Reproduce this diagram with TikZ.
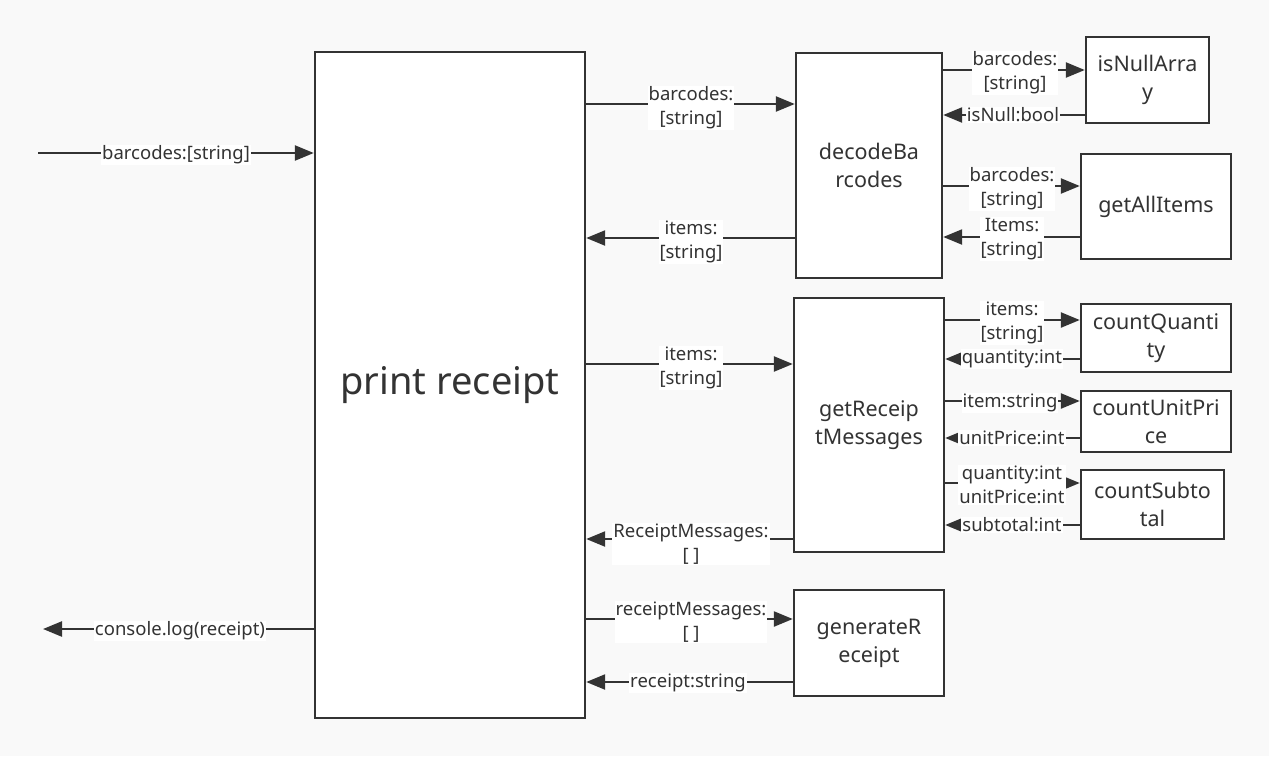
\documentclass[tikz,border=0pt]{standalone}
\usepackage{fontspec}
\setmainfont{Noto Sans}
\usetikzlibrary{arrows.meta}
\definecolor{bgc}{HTML}{F9F9F9}
\definecolor{ln}{HTML}{333333}
\tikzset{
  box/.style={draw=ln, line width=2.4pt, fill=white, inner sep=0pt, align=center, font=\fontsize{21.5}{28}\selectfont, text=ln},
  lbl/.style={fill=white, inner sep=1pt, align=center, font=\fontsize{18.5}{24}\selectfont, text=ln},
  arr/.style={draw=ln, line width=2.4pt, -{Triangle[length=19pt,width=15pt]}},
}
\begin{document}
\begin{tikzpicture}[x=1pt,y=-1pt]
\fill[bgc] (0,0) rectangle (1269,756);
\useasboundingbox (0,0) rectangle (1269,756);
% boxes
\node[box, minimum width=270pt, minimum height=666pt, font=\fontsize{38}{44}\selectfont] (pr) at (450,385) {print receipt};
\node[box, minimum width=146pt, minimum height=225pt] (db) at (869,165.5) {decodeBa\\rcodes};
\node[box, minimum width=123pt, minimum height=86pt] (inu) at (1147.5,80) {isNullArra\\y};
\node[box, minimum width=150pt, minimum height=105pt] (gai) at (1156,206.5) {getAllItems};
\node[box, minimum width=150pt, minimum height=254pt] (grm) at (869,425) {getReceip\\tMessages};
\node[box, minimum width=150pt, minimum height=68pt] (cq) at (1156,338) {countQuanti\\ty};
\node[box, minimum width=150pt, minimum height=61pt] (cup) at (1156,421.5) {countUnitPri\\ce};
\node[box, minimum width=143pt, minimum height=69pt] (cs) at (1152.5,504.5) {countSubto\\tal};
\node[box, minimum width=150pt, minimum height=106pt] (gr) at (869,643) {generateR\\eceipt};
% external ends
\coordinate (in) at (38,153);
\coordinate (out) at (43,629);
% connectors
\draw[arr] (in) -- (pr.west |- in);
\node[lbl] (l0) at (176,155) {barcodes:[string]};
\draw[arr] (pr.west |- out) -- (out);
\node[lbl] (l1) at (180,631) {console.log(receipt)};

\draw[arr] (pr.east |- 0,104) -- (db.west |- 0,104);
\node[lbl] (l2) at (691,108) {barcodes:\\{[string]}};
\draw[arr] (db.west |- 0,238) -- (pr.east |- 0,238);
\node[lbl] (l3) at (691,242) {items:\\{[string]}};
\draw[arr] (pr.east |- 0,364) -- (grm.west |- 0,364);
\node[lbl] (l4) at (691,368) {items:\\{[string]}};
\draw[arr] (grm.west |- 0,539) -- (pr.east |- 0,539);
\node[lbl] (l5) at (691,544) {ReceiptMessages:\\{[ ]}};
\draw[arr] (pr.east |- 0,619) -- (gr.west |- 0,619);
\node[lbl] (l6) at (691,622) {receiptMessages:\\{[ ]}};
\draw[arr] (gr.west |- 0,682) -- (pr.east |- 0,682);
\node[lbl] (l7) at (688,683) {receipt:string};

\draw[arr] (db.east |- 0,70) -- (inu.west |- 0,70);
\node[lbl] (l8) at (1015,73) {barcodes:\\{[string]}};
\draw[arr] (inu.west |- 0,115) -- (db.east |- 0,115);
\node[lbl] (l9) at (1013,115) {isNull:bool};
\draw[arr] (db.east |- 0,186) -- (gai.west |- 0,186);
\node[lbl] (l10) at (1012,189) {barcodes:\\{[string]}};
\draw[arr] (gai.west |- 0,237) -- (db.east |- 0,237);
\node[lbl] (l11) at (1012,239) {Items:\\{[string]}};

\draw[arr] (grm.east |- 0,320) -- (cq.west |- 0,320);
\node[lbl] (l12) at (1012,323) {items:\\{[string]}};
\draw[arr] (cq.west |- 0,359) -- (grm.east |- 0,359);
\node[lbl] (l13) at (1012,359) {quantity:int};
\draw[arr] (grm.east |- 0,401) -- (cup.west |- 0,401);
\node[lbl] (l14) at (1010,403) {item:string};
\draw[arr] (cup.west |- 0,438) -- (grm.east |- 0,438);
\node[lbl] (l15) at (1012,438) {unitPrice:int};
\draw[arr] (grm.east |- 0,483) -- (cs.west |- 0,483);
\node[lbl] (l16) at (1012,485) {quantity:int\\unitPrice:int};
\draw[arr] (cs.west |- 0,525) -- (grm.east |- 0,525);
\node[lbl] (l17) at (1012,525) {subtotal:int};
\end{tikzpicture}
\end{document}
